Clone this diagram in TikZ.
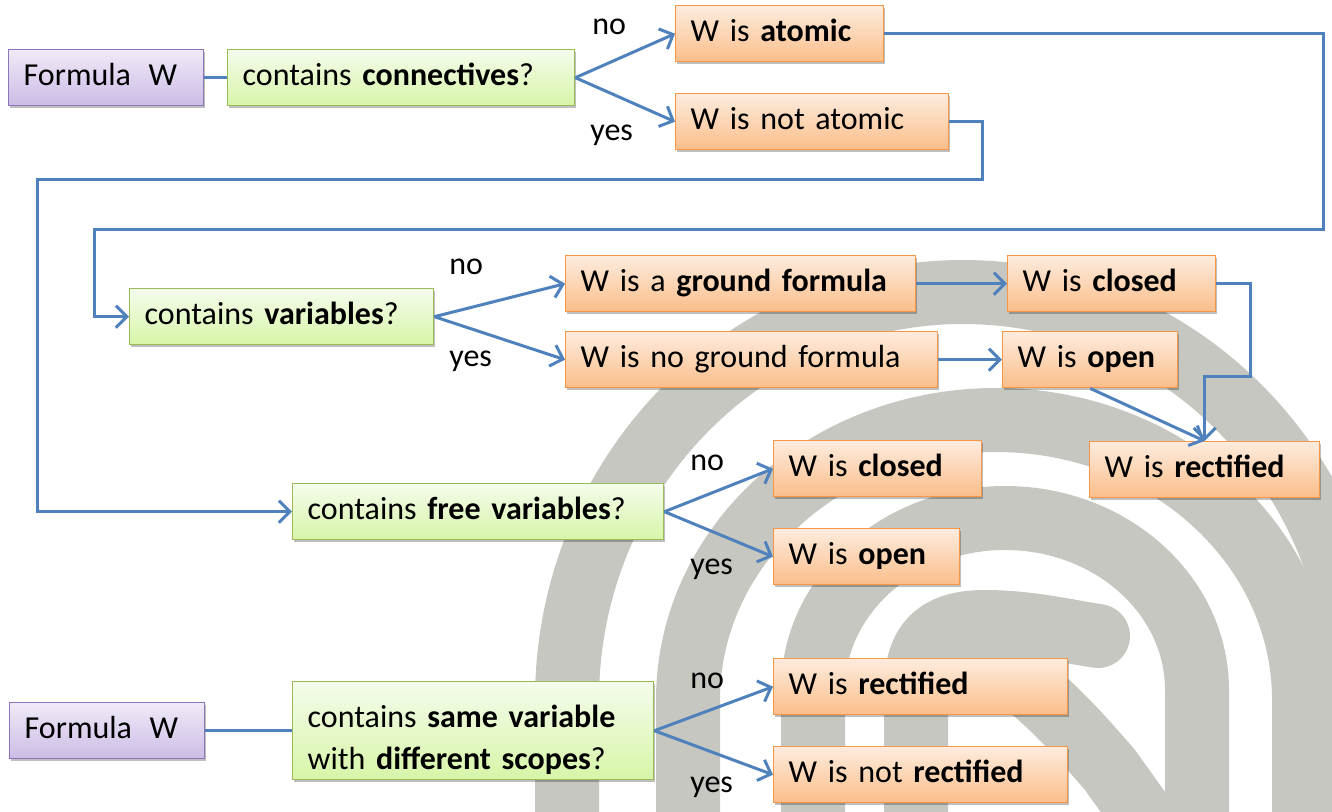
\documentclass[tikz,border=0pt]{standalone}
\usepackage{fontspec}
\setmainfont{Carlito}
\usetikzlibrary{arrows.meta,shadows}

\definecolor{arrowblue}{RGB}{79,129,189}
\definecolor{purpTop}{RGB}{240,234,248}
\definecolor{purpBot}{RGB}{204,188,230}
\definecolor{purpLine}{RGB}{140,118,186}
\definecolor{grnTop}{RGB}{245,252,236}
\definecolor{grnBot}{RGB}{215,245,168}
\definecolor{grnLine}{RGB}{155,187,89}
\definecolor{orgTop}{RGB}{253,236,222}
\definecolor{orgBot}{RGB}{251,190,138}
\definecolor{orgLine}{RGB}{247,150,70}
\definecolor{spiralgray}{RGB}{198,199,192}

\tikzset{
  basebox/.style={rectangle, draw, line width=0.7pt, anchor=north west,
    inner xsep=7.5pt, inner ysep=0pt, align=left, minimum height=28pt,
    text height=11pt, text depth=3.5pt,
    font=\fontsize{16}{21}\selectfont,
    drop shadow={shadow xshift=0.8pt, shadow yshift=-1.2pt, opacity=0.25, fill=black}},
  pbox/.style={basebox, draw=purpLine, top color=purpTop, bottom color=purpBot, text width=#1},
  gbox/.style={basebox, draw=grnLine, top color=grnTop, bottom color=grnBot, text width=#1},
  obox/.style={basebox, draw=orgLine, top color=orgTop, bottom color=orgBot, text width=#1},
  conn/.style={draw=arrowblue, line width=1.5pt, line join=miter},
  arr/.style={conn, -{Straight Barb[length=5.5pt, width=11pt, line width=1.5pt]}},
  lbl/.style={anchor=base west, inner sep=0pt, font=\fontsize{16}{19}\selectfont},
  spiral/.style={draw=spiralgray, line width=32pt, line cap=round}
}

\begin{document}
\begin{tikzpicture}[x=0.5pt, y=-0.5pt]
\useasboundingbox (0,0) rectangle (1332,812);

% background spiral
\begin{scope}
\clip (0,0) rectangle (1332,812);
\draw[spiral] (567,860) -- (567,700) arc[start angle=180, end angle=360, x radius=396, y radius=408] -- (1359,860);
\draw[spiral] (688,860) -- (688,700) arc[start angle=180, end angle=360, x radius=308, y radius=280] -- (1304,860);
\draw[spiral] (813,860) -- (813,690) arc[start angle=180, end angle=360, x radius=192, y radius=172] -- (1197,860);
\draw[spiral] (916,860) -- (916,690) .. controls (916,640) and (940,622) .. (985,622)
   .. controls (1030,622) and (1070,632) .. (1098,636);
\draw[spiral, line cap=butt] (930,650) .. controls (990,640) and (1050,700) .. (1110,770)
   -- (1160,840);
\end{scope}

% nodes
\node[pbox=82.5pt] (f1) at (8,49) {\mbox{Formula\hspace{0.55em}W}};
\node[gbox=158.5pt] (q1) at (227,49) {\mbox{contains \textbf{connectives}?}};
\node[obox=89pt] (atomic) at (675,5) {\mbox{W is \textbf{atomic}}};
\node[obox=121.5pt] (notatomic) at (675,93) {\mbox{W is not atomic}};

\node[gbox=137pt] (vars) at (129,288) {\mbox{contains \textbf{variables}?}};
\node[obox=160pt] (ground) at (565,255) {\mbox{W is a \textbf{ground formula}}};
\node[obox=171pt] (noground) at (565,331) {\mbox{W is no ground formula}};
\node[obox=89pt] (closedA) at (1007,255) {\mbox{W is \textbf{closed}}};
\node[obox=72.5pt] (openA) at (1002,331) {\mbox{W is \textbf{open}}};
\node[obox=100pt] (rectA) at (1089,441) {\mbox{W is \textbf{rectified}}};

\node[gbox=170.5pt] (free) at (292,483) {\mbox{contains \textbf{free variables}?}};
\node[obox=89pt] (closedB) at (773,440) {\mbox{W is \textbf{closed}}};
\node[obox=78pt] (openB) at (773,528) {\mbox{W is \textbf{open}}};

\node[pbox=82.5pt] (f2) at (9,702) {\mbox{Formula\hspace{0.55em}W}};
\node[gbox=165.5pt, minimum height=49pt, text height=11pt, text depth=14pt] (scopes) at (292,681)
   {\mbox{contains \textbf{same variable}}\\\mbox{with \textbf{different scopes}?}};
\node[obox=132pt] (rectB) at (773,658) {\mbox{W is \textbf{rectified}}};
\node[obox=132pt] (notrect) at (773,746) {\mbox{W is not \textbf{rectified}}};

% labels
\node[lbl] (no1) at (592,35) {no};
\node[lbl] (yes1) at (590,141) {yes};
\node[lbl] (no2) at (449,275) {no};
\node[lbl] (yes2) at (449,366) {yes};
\node[lbl] (no3) at (690,470) {no};
\node[lbl] (yes3) at (690,574) {yes};
\node[lbl] (no4) at (690,688) {no};
\node[lbl] (yes4) at (690,792) {yes};

% connectors
\coordinate (loopA) at (1323,230);
\coordinate (loopB) at (94,230);
\coordinate (loopC) at (982,180);
\coordinate (loopD) at (37,180);
\coordinate (bendR) at (1250,377);

\draw[conn] (f1.east) -- (q1.west);
\draw[arr] (q1.east) -- (atomic.west);
\draw[arr] (q1.east) -- (notatomic.west);
\draw[arr] (atomic.east) -| (loopA) -- (loopB) |- (vars.west);
\draw[arr] (notatomic.east) -| (loopC) -- (loopD) |- (free.west);

\draw[arr] (vars.east) -- (ground.west);
\draw[arr] (vars.east) -- (noground.west);
\draw[arr] (ground.east) -- (closedA.west);
\draw[arr] (noground.east) -- (openA.west);
\draw[arr] (closedA.east) -| (bendR) -| (rectA.north);
\draw[arr] (openA.south) -- (rectA.north);

\draw[arr] (free.east) -- (closedB.west);
\draw[arr] (free.east) -- (openB.west);

\draw[conn] (f2.east) -- (scopes.west);
\draw[arr] (scopes.east) -- (rectB.west);
\draw[arr] (scopes.east) -- (notrect.west);
\end{tikzpicture}
\end{document}
